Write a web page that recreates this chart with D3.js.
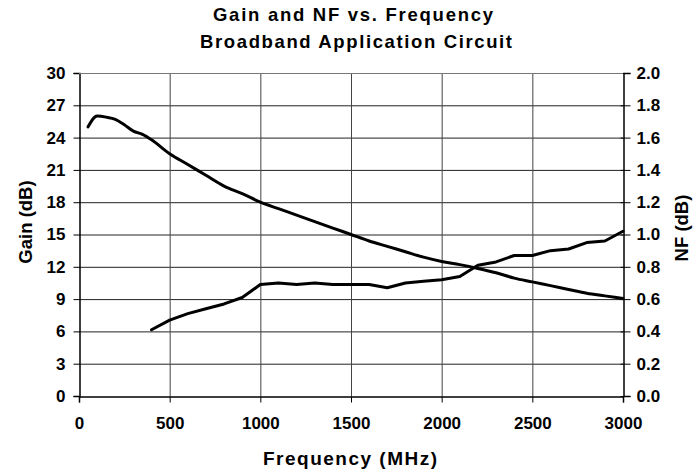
<!DOCTYPE html>
<html><head><meta charset="utf-8">
<script src="https://cdn.jsdelivr.net/npm/d3@7"></script>
<style>
body{margin:0;background:#fff;}
text{font-family:"Liberation Sans",Arial,sans-serif;font-weight:bold;fill:#000;}
</style></head><body>
<svg id="c" width="693" height="473"></svg>
<script>
const gainFreq = [50,100,150,200,250,300,350,400,500,600,700,800,900,1000,1100,1200,1300,1400,1500,1600,1700,1800,1900,2000,2100,2200,2300,2400,2500,2600,2700,2800,2900,3000];
const gainDb   = [25.0,26.0,25.9,25.7,25.2,24.6,24.3,23.8,22.5,21.5,20.5,19.5,18.8,18.0,17.4,16.8,16.2,15.6,15.0,14.4,13.9,13.4,12.9,12.5,12.2,11.85,11.45,10.95,10.6,10.25,9.9,9.55,9.3,9.05];
const nfFreq = [400,500,600,700,800,900,1000,1100,1200,1300,1400,1500,1600,1700,1800,1900,2000,2100,2200,2300,2400,2500,2600,2700,2800,2900,3000];
const nfDb   = [0.41,0.47,0.51,0.54,0.57,0.61,0.69,0.70,0.69,0.70,0.69,0.69,0.69,0.67,0.70,0.71,0.72,0.74,0.81,0.83,0.87,0.87,0.90,0.91,0.95,0.96,1.02];
const xTicks = [0,500,1000,1500,2000,2500,3000];
const yLeftTicks = [0,3,6,9,12,15,18,21,24,27,30];
const yRightTicks = [0,0.2,0.4,0.6,0.8,1.0,1.2,1.4,1.6,1.8,2.0];
const titleLines = ["Gain and NF vs. Frequency","Broadband Application Circuit"];

const svg = d3.select("#c");
const L=79,R=623,T=73,B=396;
const x = d3.scaleLinear().domain([0,3000]).range([L,R]);
const yL = d3.scaleLinear().domain([0,30]).range([B,T]);
const yR = d3.scaleLinear().domain([0,2]).range([B,T]);

// grid
svg.append("g").selectAll("line").data(yLeftTicks.filter(d=>d>0)).join("line")
 .attr("x1",L).attr("x2",R).attr("y1",d=>yL(d)+0.5).attr("y2",d=>yL(d)+0.5)
 .attr("stroke","#222").attr("stroke-width",1);
svg.append("g").selectAll("line").data(xTicks.filter(d=>d>0&&d<3000)).join("line")
 .attr("y1",T).attr("y2",B).attr("x1",d=>x(d)+0.5).attr("x2",d=>x(d)+0.5)
 .attr("stroke","#444").attr("stroke-width",1);

// axes
const gx = svg.append("g").attr("transform",`translate(0,${B+0.5})`)
 .call(d3.axisBottom(x).tickValues(xTicks).tickSize(6).tickPadding(14).tickFormat(d3.format("d")));
const gl = svg.append("g").attr("transform",`translate(${L+0.5},0)`)
 .call(d3.axisLeft(yL).tickValues(yLeftTicks).tickSize(6).tickPadding(8).tickFormat(d3.format("d")));
const gr = svg.append("g").attr("transform",`translate(${R+0.5},0)`)
 .call(d3.axisRight(yR).tickValues(yRightTicks).tickSize(7).tickPadding(6).tickFormat(d3.format(".1f")));
gr.selectAll(".tick line").attr("x1",-3);
[gx,gl,gr].forEach(g=>{
  g.select(".domain").attr("stroke","#000").attr("stroke-width",1.5);
  g.selectAll(".tick line").attr("stroke","#000");
  g.selectAll("text").style("font-size","17px").style("font-family","Liberation Sans, Arial, sans-serif").style("font-weight","bold");
});
// top border
svg.append("line").attr("x1",L).attr("x2",R).attr("y1",T+0.5).attr("y2",T+0.5).attr("stroke","#777");

// lines
const lineG = d3.line().x((d,i)=>x(gainFreq[i])).y(d=>yL(d)).curve(d3.curveMonotoneX);
const lineN = d3.line().x((d,i)=>x(nfFreq[i])).y(d=>yR(d));
svg.append("path").attr("d",lineG(gainDb)).attr("fill","none").attr("stroke","#000").attr("stroke-width",3).attr("stroke-linejoin","round").attr("stroke-linecap","round");
svg.append("path").attr("d",lineN(nfDb)).attr("fill","none").attr("stroke","#000").attr("stroke-width",3).attr("stroke-linejoin","round").attr("stroke-linecap","round");

// titles
const titleW = [280,312];
const titleX = [353,356];
svg.selectAll(".ttl").data(titleLines).join("text")
 .attr("x",(d,i)=>titleX[i]).attr("y",(d,i)=>21+i*26.5).attr("text-anchor","middle").style("font-size","18.5px")
 .attr("textLength",(d,i)=>titleW[i]).attr("lengthAdjust","spacing").text(d=>d);
svg.append("text").attr("x",350).attr("y",465).attr("text-anchor","middle").style("font-size","19px")
 .attr("textLength",174).attr("lengthAdjust","spacing").text("Frequency (MHz)");
svg.append("text").attr("transform","translate(32,222) rotate(-90)").attr("text-anchor","middle").style("font-size","18.5px").text("Gain (dB)");
svg.append("text").attr("transform","translate(688,228) rotate(-90)").attr("text-anchor","middle").style("font-size","18.5px").text("NF (dB)");
</script></body></html>
